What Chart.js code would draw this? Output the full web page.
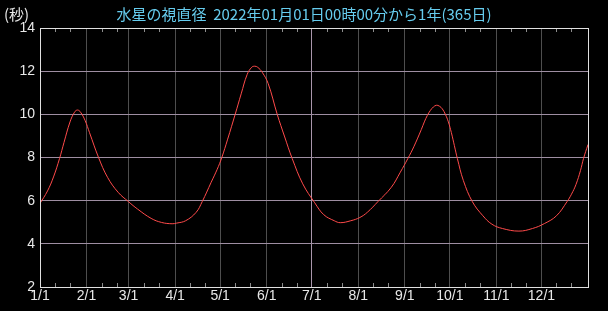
<!DOCTYPE html>
<html>
<head>
<meta charset="utf-8">
<script src="https://cdn.jsdelivr.net/npm/chart.js@4"></script>
<style>
  html, body { margin: 0; padding: 0; background: #000; }
  #diamChart { display: block; }
</style>
</head>
<body>
<canvas id="diamChart" width="608" height="311"></canvas>
<script>
// day of year (0 = 1/1) and apparent diameter (arcsec)
const days = [0,5,9,13,16,20,23,25,27,30,33,39,45,52,59,65,74,81,88,91,97,104,108,114,118,121,125,130,134,138,141,143,145,148,152,158,163,168,175,183,189,196,200,207,213,218,225,234,240,245,249,254,256,258,260,262,264,266,268,270,272,274,276,278,282,288,295,301,308,319,328,336,344,351,354,357,360,362,365];
const diam = [5.87,6.45,7.1,7.95,8.7,9.65,10.1,10.2,10.1,9.72,9.15,8.0,7.08,6.39,5.95,5.61,5.18,4.99,4.93,4.96,5.07,5.46,5.95,6.85,7.45,7.98,8.85,10.0,10.95,11.85,12.18,12.23,12.18,11.95,11.42,10.0,8.95,7.95,6.78,5.9,5.35,5.07,4.98,5.07,5.22,5.46,5.95,6.62,7.32,7.95,8.5,9.3,9.65,9.95,10.18,10.34,10.42,10.38,10.25,10.0,9.65,9.15,8.55,7.95,6.93,5.95,5.3,4.91,4.71,4.59,4.71,4.94,5.3,5.95,6.3,6.75,7.4,7.95,8.6];

const monthDays = [0,31,59,90,120,151,181,212,243,273,304,334];
const monthLabels = ["1/1","2/1","3/1","4/1","5/1","6/1","7/1","8/1","9/1","10/1","11/1","12/1"];
const yTicks = [2,4,6,8,10,12,14];

const titleText = "水星の視直径  2022年01月01日00時00分から1年(365日)";
const unitText = "(秒)";

// small ticks on the 11th and 21st of each month
const minorDays = [];
monthDays.forEach(d => { minorDays.push(d + 10, d + 20); });

const decor = {
  id: "decor",
  afterDraw(chart) {
    const ctx = chart.ctx;
    const a = chart.chartArea;
    const xs = chart.scales.x;
    ctx.save();
    ctx.strokeStyle = "#8c8c8c";
    ctx.lineWidth = 1;
    minorDays.forEach(d => {
      const px = Math.round(xs.getPixelForValue(d)) + 0.5;
      ctx.beginPath();
      ctx.moveTo(px, a.top); ctx.lineTo(px, a.top + 4);
      ctx.moveTo(px, a.bottom); ctx.lineTo(px, a.bottom - 4);
      ctx.stroke();
    });
    ctx.strokeStyle = "#e0e0e0";
    ctx.strokeRect(Math.round(a.left) + 0.5, Math.round(a.top) + 0.5,
                   Math.round(a.right - a.left), Math.round(a.bottom - a.top));
    ctx.font = "15px 'Noto Sans CJK JP'";
    ctx.textBaseline = "middle";
    ctx.fillStyle = "#e8e8e8";
    ctx.textAlign = "left";
    ctx.fillText(unitText, 4, 14);
    ctx.fillStyle = "#66ccee";
    ctx.textAlign = "center";
    ctx.fillText(titleText, 304, 14);
    ctx.restore();
  }
};

new Chart(document.getElementById("diamChart"), {
  type: "line",
  data: {
    datasets: [{
      data: days.map((d, i) => ({ x: d, y: diam[i] })),
      borderColor: "#ff4a4a",
      borderWidth: 1,
      pointRadius: 0,
      tension: 0.4,
      fill: false
    }]
  },
  options: {
    responsive: false,
    animation: false,
    devicePixelRatio: 1,
    layout: { padding: { left: 0, right: 20, top: 28, bottom: 0 } },
    plugins: { legend: { display: false }, tooltip: { enabled: false } },
    scales: {
      x: {
        type: "linear",
        min: 0,
        max: 365,
        afterBuildTicks: s => { s.ticks = monthDays.map(v => ({ value: v })); },
        afterFit: s => { s.height = 24; },
        ticks: {
          color: "#e8e8e8",
          font: { family: "Liberation Sans", size: 14 },
          padding: 1,
          maxRotation: 0,
          autoSkip: false,
          callback: v => monthLabels[monthDays.indexOf(v)]
        },
        grid: {
          drawTicks: false,
          color: c => (c.tick && c.tick.value === 181) ? "#a996ac" : "#4e4e4e"
        },
        border: { color: "#e0e0e0" }
      },
      y: {
        min: 2,
        max: 14,
        afterBuildTicks: s => { s.ticks = yTicks.map(v => ({ value: v })); },
        afterFit: s => { s.width = 40; },
        ticks: {
          color: "#e8e8e8",
          font: { family: "Liberation Sans", size: 14 },
          padding: 5,
          autoSkip: false
        },
        grid: { drawTicks: false, color: "#9e8ea2" },
        border: { color: "#e0e0e0" }
      }
    }
  },
  plugins: [decor]
});
</script>
</body>
</html>
